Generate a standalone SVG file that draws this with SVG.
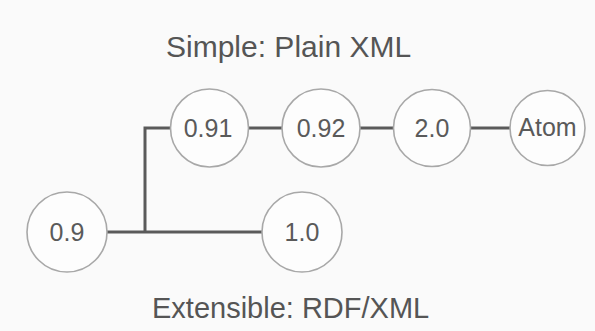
<svg xmlns="http://www.w3.org/2000/svg" width="595" height="331" viewBox="0 0 595 331">
<style>
.node circle{fill:#fdfdfd;stroke:#a8a8a8;stroke-width:1.6}
.node text{font-family:"Liberation Sans",Arial,sans-serif;font-size:25px;fill:#5a5a5a;text-anchor:middle}
.title{font-family:"Liberation Sans",Arial,sans-serif;fill:#555}
.conn{fill:none;stroke:#5a5a5a;stroke-width:3}
</style>
<rect width="595" height="331" fill="#fafafa"/>
<text class="title" x="166" y="57" font-size="30">Simple: Plain XML</text>
<text class="title" x="152" y="318" font-size="29">Extensible: RDF/XML</text>
<g id="connectors">
<path class="conn" d="M107 232 H262"/>
<path class="conn" d="M145 232 V128 H171"/>
<path class="conn" d="M248 128 H282"/>
<path class="conn" d="M360 128 H393"/>
<path class="conn" d="M470 128 H510"/>
</g>
<g id="n09" class="node"><circle cx="67" cy="232" r="40"/><text x="67" y="241">0.9</text></g>
<g id="n10" class="node"><circle cx="302" cy="232" r="40"/><text x="302" y="241">1.0</text></g>
<g id="n091" class="node"><circle cx="209.5" cy="128" r="39"/><text x="208" y="137">0.91</text></g>
<g id="n092" class="node"><circle cx="321" cy="128" r="39"/><text x="321" y="137">0.92</text></g>
<g id="n20" class="node"><circle cx="432" cy="128" r="38.5"/><text x="432" y="137">2.0</text></g>
<g id="natom" class="node"><circle cx="547.5" cy="128" r="37.5"/><text x="547.5" y="136">Atom</text></g>
</svg>
